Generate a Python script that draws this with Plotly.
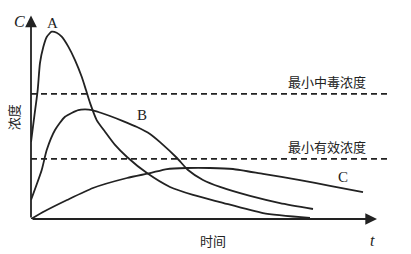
import plotly.graph_objects as go

# ---- data (time t, concentration C) ----
t_A = [0, 0.1, 0.191, 0.257, 0.351, 0.449, 0.591, 0.734, 0.877, 1.066, 1.257, 1.449, 1.571,
       1.686, 1.877, 2.114, 2.4, 2.743, 3.314, 3.971, 4.629, 5.4, 6.629, 7.971]
c_A = [3.77, 5.10, 6.32, 7.65, 8.43, 8.92, 9.18, 9.13, 8.94, 8.45, 7.79, 6.97, 6.32,
       5.69, 4.85, 4.28, 3.63, 3.04, 2.25, 1.57, 1.18, 0.83, 0.29, 0.05]

t_B = [0, 0.306, 0.449, 0.686, 0.971, 1.351, 1.543, 1.743, 1.971, 2.257, 2.629, 3.029, 3.4,
       3.686, 4.171, 4.486, 4.914, 5.4, 6.257, 7.114, 8.057]
c_B = [0.93, 2.40, 3.38, 4.36, 5.01, 5.34, 5.37, 5.34, 5.22, 5.05, 4.80, 4.51, 4.17,
       3.77, 2.99, 2.40, 1.91, 1.57, 1.13, 0.78, 0.49]

t_C = [0, 0.4, 1.029, 1.771, 2.743, 3.4, 3.886, 4.457, 5.114, 5.771, 6.629, 7.686, 8.543, 9.486]
c_C = [0, 0.39, 0.93, 1.52, 2.01, 2.25, 2.45, 2.5, 2.5, 2.45, 2.21, 1.91, 1.62, 1.32]

toxic_level = 6.13       # 最小中毒浓度
effective_level = 2.95   # 最小有效浓度
level_t = [0, 10.23]

curve_names = ["A", "B", "C"]
level_labels = ["最小中毒浓度", "最小有效浓度"]
axis_labels = {"y": "C", "x": "t", "ytitle": "浓度", "xtitle": "时间"}

INK = "#222222"
CJK = "Noto Sans CJK SC"
SERIF = "Liberation Serif"

X_MAX = 380 / 35
Y_MAX = 219 / 20.4

fig = go.Figure()
for tt, cc in [(t_A, c_A), (t_B, c_B), (t_C, c_C)]:
    fig.add_trace(go.Scatter(x=tt, y=cc, mode="lines",
                             line=dict(color=INK, width=1.8, shape="spline", smoothing=0.6),
                             hoverinfo="skip", showlegend=False))
for lvl in [toxic_level, effective_level]:
    fig.add_trace(go.Scatter(x=level_t, y=[lvl, lvl], mode="lines",
                             line=dict(color=INK, width=1.8, dash="6px,4px"),
                             hoverinfo="skip", showlegend=False))


def px(tv):
    return tv / X_MAX


def py(cv):
    return cv / Y_MAX


ann = []
# axes with arrows
ann.append(dict(x=0, y=9.97, ax=0, ay=0, xref="x", yref="y", axref="x", ayref="y",
                showarrow=True, arrowhead=2, arrowsize=1.3, arrowwidth=1.8,
                arrowcolor=INK, text=""))
ann.append(dict(x=9.886, y=0, ax=0, ay=0, xref="x", yref="y", axref="x", ayref="y",
                showarrow=True, arrowhead=2, arrowsize=1.3, arrowwidth=1.8,
                arrowcolor=INK, text=""))


def txt(x, y, s, font, size, italic=False, angle=0):
    return dict(x=px(x), y=py(y), xref="paper", yref="paper", text=s, showarrow=False,
                textangle=angle,
                font=dict(family=font, size=size, color=INK,
                          style="italic" if italic else "normal"),
                xanchor="center", yanchor="middle")


ann.append(txt(0.6, 9.6, curve_names[0], SERIF, 15))
ann.append(txt(3.17, 5.1, curve_names[1], SERIF, 15))
ann.append(txt(8.91, 2.06, curve_names[2], SERIF, 15))
ann.append(txt(-0.34, 9.66, axis_labels["y"], SERIF, 16, italic=True))
ann.append(txt(9.77, -1.03, axis_labels["x"], SERIF, 16, italic=True))
ann.append(txt(5.2, -1.03, axis_labels["xtitle"], CJK, 13))
ann.append(txt(-0.51, 5.0, axis_labels["ytitle"], CJK, 13, angle=-90))
ann.append(txt(8.46, 6.76, level_labels[0], CJK, 13))
ann.append(txt(8.46, 3.53, level_labels[1], CJK, 13))

fig.update_layout(
    width=411, height=254,
    margin=dict(l=31, r=0, t=0, b=35, pad=0),
    paper_bgcolor="white", plot_bgcolor="white",
    xaxis=dict(range=[0, X_MAX], visible=False, fixedrange=True),
    yaxis=dict(range=[0, Y_MAX], visible=False, fixedrange=True),
    annotations=ann,
    showlegend=False,
)

fig.write_html("out.html", config={"displayModeBar": False})
